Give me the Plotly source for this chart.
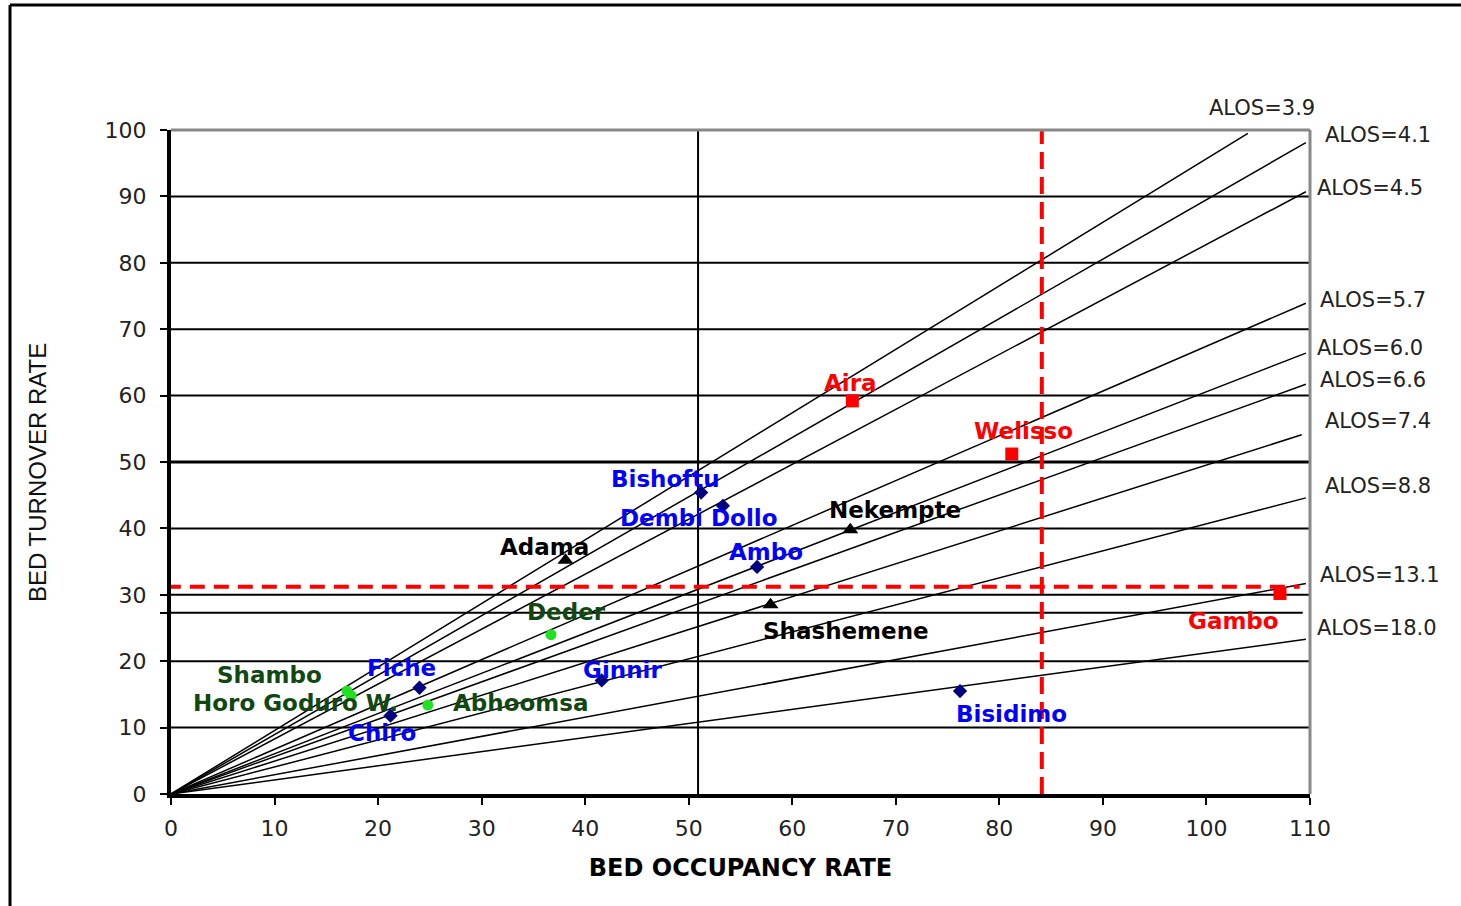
import plotly.graph_objects as go

# ---- hospital performance: bed occupancy rate (%) vs bed turnover rate ----
red_names = ["Aira", "Welisso", "Gambo"]
red_bor = [65.8, 81.2, 107.1]
red_btr = [59.2, 51.2, 30.2]

blue_names = ["Bishoftu", "Dembi Dollo", "Ambo", "Fiche", "Chiro", "Ginnir", "Bisidimo"]
blue_bor = [51.2, 53.3, 56.6, 24.0, 21.2, 41.6, 76.2]
blue_btr = [45.4, 43.4, 34.2, 16.0, 11.8, 17.1, 15.5]

black_names = ["Adama", "Nekempte", "Shashemene"]
black_bor = [38.1, 65.6, 57.9]
black_btr = [35.2, 39.8, 28.5]

green_names = ["Deder", "Shambo", "Horo Goduro W.", "Abhoomsa"]
green_bor = [36.7, 17.0, 17.4, 24.8]
green_btr = [24.0, 15.5, 14.8, 13.4]

# average length of stay iso-lines (end point of each line drawn from the origin)
alos = [3.9, 4.1, 4.5, 5.7, 6.0, 6.6, 7.4, 8.8, 13.1, 18.0]
alos_end_bor = [104.0, 109.6, 109.6, 109.6, 109.6, 109.6, 109.2, 109.6, 109.6, 109.6]
alos_end_btr = [99.5, 98.1, 90.7, 73.9, 66.4, 61.7, 54.1, 44.6, 31.7, 23.3]

# mean lines and reference (standard) lines
mean_bor, mean_btr = 50.9, 27.3
ref_bor, ref_btr = 84.1, 31.2

x_ticks = list(range(0, 111, 10))
y_ticks = list(range(0, 101, 10))

# ---- layout constants ----
W, H = 1461, 906
ML, MR, MT, MB = 171, 151, 130, 112
X_MAX, Y_MAX = 110, 100
pw, ph = W - ML - MR, H - MT - MB

fig = go.Figure()

# ALOS lines
for a, xe, ye in zip(alos, alos_end_bor, alos_end_btr):
    fig.add_trace(go.Scatter(x=[0, xe], y=[0, ye], mode="lines",
                             line=dict(color="black", width=1.5),
                             hoverinfo="skip", showlegend=False))

# markers
fig.add_trace(go.Scatter(x=red_bor, y=red_btr, mode="markers", text=red_names,
                         marker=dict(symbol="square", size=13, color="#ff0000"),
                         showlegend=False))
fig.add_trace(go.Scatter(x=blue_bor, y=blue_btr, mode="markers", text=blue_names,
                         marker=dict(symbol="diamond", size=11, color="#000080"),
                         showlegend=False))
fig.add_trace(go.Scatter(x=black_bor, y=black_btr, mode="markers", text=black_names,
                         marker=dict(symbol="triangle-up", size=14, color="black"),
                         showlegend=False))
fig.add_trace(go.Scatter(x=green_bor, y=green_btr, mode="markers", text=green_names,
                         marker=dict(symbol="circle", size=11, color="#22e022"),
                         showlegend=False))

shapes = []
# horizontal grid lines
for v in y_ticks[1:-1]:
    shapes.append(dict(type="line", xref="x", yref="y", x0=0, x1=X_MAX, y0=v, y1=v,
                       line=dict(color="black", width=3 if v == 50 else 2), layer="below"))
# mean lines
shapes.append(dict(type="line", xref="x", yref="y", x0=0, x1=109.3, y0=mean_btr, y1=mean_btr,
                   line=dict(color="black", width=2), layer="below"))
shapes.append(dict(type="line", xref="x", yref="y", x0=mean_bor, x1=mean_bor, y0=0, y1=Y_MAX,
                   line=dict(color="black", width=2), layer="below"))
# reference lines
shapes.append(dict(type="line", xref="x", yref="y", x0=-0.5, x1=109.0, y0=ref_btr, y1=ref_btr,
                   line=dict(color="#ff0000", width=4, dash="15px,9px")))
shapes.append(dict(type="line", xref="x", yref="y", x0=ref_bor, x1=ref_bor, y0=0, y1=Y_MAX,
                   line=dict(color="#ff0000", width=4, dash="17px,8px")))
# plot border (top / right in grey)
shapes.append(dict(type="line", xref="paper", yref="paper", x0=0, x1=1, y0=1, y1=1,
                   line=dict(color="#888888", width=3)))
shapes.append(dict(type="line", xref="paper", yref="paper", x0=1, x1=1, y0=0, y1=1,
                   line=dict(color="#888888", width=3)))
# outer frame (top and left edges)
fx = (10 - ML) / pw
fy_top = (H - MB - 5) / ph
shapes.append(dict(type="line", xref="paper", yref="paper", x0=fx, x1=(W - ML) / pw + 0.01,
                   y0=fy_top, y1=fy_top, line=dict(color="black", width=3)))
shapes.append(dict(type="line", xref="paper", yref="paper", x0=fx, x1=fx,
                   y0=fy_top, y1=-MB / ph - 0.01, line=dict(color="black", width=3)))

annotations = []
# hospital labels
label_pos = {
    "Aira": (65.6, 61.9), "Welisso": (82.3, 54.7), "Gambo": (102.6, 26.1),
    "Bishoftu": (47.8, 47.4), "Dembi Dollo": (50.9, 41.6), "Ambo": (57.5, 36.4),
    "Fiche": (22.3, 19.0), "Chiro": (20.4, 9.2), "Ginnir": (43.6, 18.7),
    "Bisidimo": (81.2, 12.0), "Adama": (36.1, 37.2), "Nekempte": (69.9, 42.8),
    "Shashemene": (65.2, 24.5), "Deder": (38.2, 27.4), "Shambo": (9.5, 17.9),
    "Horo Goduro W.": (12.0, 13.7), "Abhoomsa": (33.8, 13.7),
}
label_groups = [(red_names, "#ff0000"), (blue_names, "#0000ff"),
                (black_names, "#000000"), (green_names, "#114811")]
for names, col in label_groups:
    for n in names:
        lx, ly = label_pos[n]
        annotations.append(dict(x=lx, y=ly, xref="x", yref="y", text=n, showarrow=False,
                                xanchor="center", yanchor="middle",
                                font=dict(family="DejaVu Sans", size=23, color=col, weight="bold")))

# ALOS labels (outside the plotting area, positioned in axis units)
alos_label_pos = [(105.4, 103.3, "center"), (111.25, 99.2, "left"), (110.5, 91.3, "left"),
                  (110.8, 74.4, "left"), (110.5, 67.2, "left"), (110.8, 62.3, "left"),
                  (111.25, 56.2, "left"), (111.25, 46.4, "left"), (110.8, 33.0, "left"),
                  (110.5, 25.0, "left")]
for a, (ux, uy, anc) in zip(alos, alos_label_pos):
    annotations.append(dict(x=ux / X_MAX, y=uy / Y_MAX, xref="paper", yref="paper",
                            text=f"ALOS={a:.1f}", showarrow=False, xanchor=anc, yanchor="middle",
                            font=dict(family="DejaVu Sans", size=21, color="#222222")))

# vertical axis title
annotations.append(dict(x=(37 - ML) / pw, y=(H - MB - 473) / ph, xref="paper", yref="paper",
                        text="BED TURNOVER RATE", showarrow=False, textangle=-90,
                        xanchor="center", yanchor="middle",
                        font=dict(family="Liberation Sans", size=24, color="#111111")))

fig.update_layout(
    width=W, height=H,
    margin=dict(l=ML, r=MR, t=MT, b=MB),
    paper_bgcolor="white", plot_bgcolor="white",
    shapes=shapes, annotations=annotations,
    xaxis=dict(range=[0, X_MAX], tickvals=x_ticks, showgrid=False, zeroline=False,
               showline=True, linecolor="black", linewidth=4,
               ticks="outside", ticklen=7, tickwidth=2, tickcolor="black",
               ticklabelstandoff=5,
               tickfont=dict(family="DejaVu Sans", size=22, color="#222222"),
               title=dict(text="BED OCCUPANCY RATE", standoff=20,
                          font=dict(family="DejaVu Sans", size=24, color="black", weight="bold"))),
    yaxis=dict(range=[0, Y_MAX], tickvals=y_ticks + [mean_btr],
               ticktext=[str(v) for v in y_ticks] + [""],
               showgrid=False, zeroline=False,
               showline=True, linecolor="black", linewidth=4,
               ticks="outside", ticklen=7, tickwidth=2, tickcolor="black",
               ticklabelstandoff=9,
               tickfont=dict(family="DejaVu Sans", size=22, color="#222222")),
)

fig.write_html("out.html")
